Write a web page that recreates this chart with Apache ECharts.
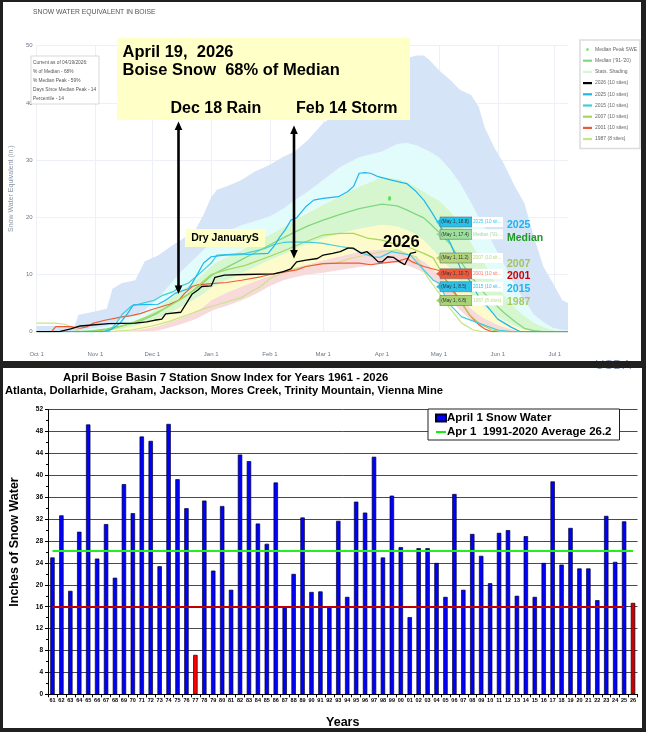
<!DOCTYPE html>
<html><head><meta charset="utf-8">
<script src="https://cdn.jsdelivr.net/npm/echarts@6/dist/echarts.min.js"></script>
<style>
html,body{margin:0;padding:0;background:#202020;width:646px;height:732px;overflow:hidden}
.panel{position:absolute;background:#fff}
#c{position:absolute;left:0;top:0;width:646px;height:732px}
#sep{position:absolute;left:0;top:361px;width:646px;height:7px;background:#202020;z-index:5}
</style></head><body>
<div class="panel" style="left:3px;top:2px;width:638px;height:359px"></div>
<div class="panel" style="left:3px;top:368px;width:639px;height:360px"></div>
<div id="c"></div>
<div id="sep"></div>
<script>
// ---------------- TOP CHART DATA (days since Oct 1) ----------------
const monthTicks = ['Oct 1','Nov 1','Dec 1','Jan 1','Feb 1','Mar 1','Apr 1','May 1','Jun 1','Jul 1'];
const statDays   = [0,10,20,22,30,37,40,45,52,57,64,71,76,84,88,92,95,100,108,115,123,130,136,143,151,160,170,182,190,195,200,204,207,212,218,223,229,233,236,241,246,252,257,262,267,272,277,280];
const statMax    = [1.0,1.0,0.8,2.9,3.5,4.0,7.5,8.5,9.0,12.3,13.3,15.0,16.0,18.0,20.5,23.5,24.8,25.4,26.5,28.0,29.2,30.6,31.5,33.5,36.5,38.5,41.0,44.0,46.5,47.8,48.3,48.3,47.5,45.7,44.0,42.3,41.4,39.3,35.8,32.3,29.5,25.4,22.5,16.6,11.4,8.5,5.5,5.0];
const statP90    = [0,0,0.1,0.2,0.6,1.0,1.5,2.2,3.0,3.8,5.8,8.5,10.5,13.0,14.3,15.5,16.3,17.5,18.6,19.3,20.2,21.5,23.0,24.5,26.5,28.8,30.5,31.5,32.8,33.0,32.6,32.0,31.5,30.5,28.3,26.0,22.5,20.0,18.3,15.0,12.0,8.0,5.5,3.0,1.7,0.7,0.3,0.2];
const statP70    = [0,0,0,0,0.3,0.6,0.8,1.2,1.9,2.6,4.2,6.0,7.2,9.0,10.2,11.5,12.2,13.0,14.3,15.5,17.0,18.3,19.5,20.8,22.2,23.7,25.4,27.0,26.8,26.2,25.3,24.5,23.8,23.0,21.0,19.0,15.5,13.3,12.0,9.0,6.5,4.2,2.8,1.6,0.8,0.3,0.1,0];
const statMedian = [0,0,0,0,0.2,0.5,0.7,1.0,1.6,2.2,3.3,4.8,5.7,7.5,8.6,9.8,10.4,11.2,12.6,13.8,15.2,16.4,17.4,18.5,19.5,20.5,21.5,22.3,22.0,21.3,20.5,19.9,19.0,17.4,15.3,12.5,9.6,8.0,6.7,5.0,3.4,1.8,0.6,0.2,0,0,0,0];
const statP30    = [0,0,0,0,0.1,0.2,0.3,0.5,1.0,1.5,2.3,3.4,4.3,5.8,6.7,7.7,8.2,9.0,10.2,11.3,12.6,13.5,14.4,15.4,16.3,17.2,18.0,18.7,18.4,17.8,17.0,16.0,15.0,13.2,11.0,8.8,6.5,5.2,4.3,3.0,2.0,1.0,0.4,0.1,0,0,0,0];
const statP10    = [0,0,0,0,0,0,0,0.1,0.3,0.5,1.0,1.8,2.4,3.5,4.4,5.5,6.0,6.8,7.9,8.8,9.8,10.6,11.2,11.8,12.5,13.2,14.0,14.4,14.3,13.8,13.0,12.3,11.5,10.0,7.8,6.0,4.0,3.0,2.3,1.5,0.8,0.3,0,0,0,0,0,0];
const statMin    = [0,0,0,0,0,0,0,0,0,0,0.2,0.8,1.3,2.2,2.9,3.6,4.0,4.5,5.5,6.5,8.0,9.0,9.5,10.0,10.3,10.8,11.3,12.0,12.0,11.6,11.0,10.3,9.6,8.0,5.5,3.8,2.0,1.2,0.8,0.3,0,0,0,0,0,0,0,0];
const medianPeak = [[186, 23.3]];

const wy2026 = [[0,0],[12,0],[18,0.5],[23,1.0],[38,1.4],[52,1.5],[58,1.7],[62,2.0],[66,2.2],[68,3.1],[76,3.4],[79,5.0],[82,6.6],[85,7.3],[87,7.9],[92,8.0],[94,9.5],[99,9.9],[110,10.0],[125,10.1],[130,10.5],[134,11.0],[137,12.2],[142,12.5],[148,12.8],[151,13.4],[156,13.7],[160,14.0],[164,14.6],[167,14.6],[171,13.7],[174,14.0],[177,13.2],[180,12.2],[182,12.2],[185,13.1],[188,13.0],[191,12.3],[194,11.7],[197,13.7],[200,13.9]];
const wy2025 = [[0,0],[35,0],[40,0.5],[44,1.5],[48,3.2],[51,4.7],[64,4.8],[68,5.5],[73,6.7],[80,7.5],[82,8.5],[85,10.2],[88,12.0],[92,13.1],[99,13.4],[110,13.5],[122,13.7],[125,14.9],[128,16.5],[131,17.8],[134,19.5],[137,19.9],[142,21.9],[146,23.0],[151,23.3],[159,23.6],[164,24.5],[167,25.4],[170,27.7],[173,27.8],[176,27.7],[180,27.1],[187,26.5],[195,25.9],[200,24.5],[204,23.0],[208,21.0],[212,18.8],[218,15.5],[224,10.5],[228,9.0],[233,6.1],[238,4.2],[243,2.2],[250,0.8],[255,0],[280,0]];
const wy2015 = [[0,0],[38,0],[42,1.5],[45,3.0],[50,4.5],[56,5.0],[62,5.5],[66,6.3],[72,7.0],[76,8.0],[80,8.5],[84,9.6],[88,10.8],[92,12.0],[95,13.4],[100,13.5],[110,13.7],[120,14.5],[125,15.2],[130,15.6],[136,15.7],[145,15.6],[150,15.5],[160,14.9],[166,14.6],[172,13.7],[177,13.1],[181,13.0],[187,14.0],[197,13.4],[204,10.8],[209,9.0],[212,8.5],[217,5.0],[224,2.6],[233,1.5],[243,0.3],[250,0],[280,0]];
const wy2007 = [[0,0],[30,0],[40,0.5],[50,1.5],[61,3.0],[70,4.5],[80,6.5],[92,10.0],[100,10.8],[110,11.6],[123,13.2],[130,14.1],[140,15.5],[151,16.9],[160,17.2],[167,17.2],[175,16.3],[182,16.0],[187,15.5],[195,14.9],[204,13.7],[209,12.9],[212,11.2],[218,7.5],[224,5.0],[228,3.0],[233,1.5],[240,0.3],[245,0],[280,0]];
const wy2001 = [[0,0],[8,0],[10,0.9],[18,0.9],[23,0.6],[27,0.9],[30,1.5],[36,2.0],[45,2.6],[50,2.8],[55,3.2],[60,3.8],[66,4.4],[70,4.8],[75,5.5],[78,6.7],[82,7.9],[85,8.2],[92,8.4],[100,8.6],[108,9.0],[118,9.6],[123,10.0],[130,10.4],[137,10.8],[142,11.4],[151,11.9],[160,12.0],[170,12.0],[176,11.7],[182,12.0],[190,12.3],[195,12.8],[198,12.2],[204,11.4],[212,10.7],[218,8.0],[224,5.0],[228,3.0],[233,1.2],[236,0.5],[240,0],[280,0]];
const wy1987 = [[0,1.5],[10,1.5],[15,1.3],[20,0.5],[23,0],[40,0],[50,0.3],[61,1.0],[70,1.8],[80,3.0],[88,4.0],[92,4.4],[100,5.2],[108,6.0],[113,7.0],[118,7.9],[123,9.3],[130,10.3],[133,10.8],[140,11.3],[151,11.9],[158,12.0],[165,12.8],[175,13.5],[182,14.0],[190,14.3],[196,13.5],[200,13.1],[206,9.5],[212,6.8],[218,4.0],[224,1.5],[230,0.3],[235,0],[280,0]];

// ---------------- BOTTOM CHART DATA ----------------
const years = ['61','62','63','64','65','66','67','68','69','70','71','72','73','74','75','76','77','78','79','80','81','82','83','84','85','86','87','88','89','90','91','92','93','94','95','96','97','98','99','00','01','02','03','04','05','06','07','08','09','10','11','12','13','14','15','16','17','18','19','20','21','22','23','24','25','26'];
const april1 = [25.0,32.7,18.9,29.7,49.3,24.8,31.1,21.3,38.4,33.1,47.1,46.3,23.4,49.4,39.3,34.0,7.2,35.4,22.6,34.4,19.1,43.8,42.6,31.2,27.5,38.7,15.9,22.0,32.3,18.7,18.8,15.9,31.7,17.8,35.2,33.2,43.4,25.0,36.3,26.9,14.1,26.7,26.7,24.0,17.8,36.6,19.1,29.3,25.3,20.3,29.5,30.0,18.0,28.9,17.8,24.0,38.9,23.7,30.4,23.0,23.0,17.2,32.6,24.2,31.6,16.7];
const average9120 = 26.2;
const redLineValue = 16.0;
const lowYear = '77', currentYear = '26';

// ---------------- BUILD ----------------
const SANS = "'Liberation Sans', Arial, sans-serif";
const MON = ['Jan','Feb','Mar','Apr','May','Jun','Jul','Aug','Sep','Oct','Nov','Dec'];
const dayLabels = [];
for (let d = 0; d <= 280; d++) { const dt = new Date(2025, 9, 1 + d); dayLabels.push(MON[dt.getMonth()] + ' ' + dt.getDate()); }
const isMonth = (i, v) => monthTicks.indexOf(v) >= 0;

const pair = (arr) => statDays.map((d, i) => [d, arr[i]]);
const diff = (a, b) => statDays.map((d, i) => [d, Math.max(0, a[i] - b[i])]);
function band(name, data, color) {
  return { name, type:'line', xAxisIndex:0, yAxisIndex:0, stack:'stats', data, symbol:'none', silent:true,
    lineStyle:{width:0}, areaStyle:{color, opacity:1}, itemStyle:{color}, z:1 };
}
function yr(name, data, color, w) {
  return { name, type:'line', xAxisIndex:0, yAxisIndex:0, data, symbol:'none', silent:true,
    lineStyle:{color, width:w||1.2}, itemStyle:{color}, z:3 };
}

const series = [
  { name:'_min', type:'line', xAxisIndex:0, yAxisIndex:0, stack:'stats', data:pair(statMin), symbol:'none', lineStyle:{width:0}, silent:true, z:1 },
  band('_p10', diff(statP10, statMin), '#f9dada'),
  band('_p30', diff(statP30, statP10), '#fdfbcb'),
  band('Stats. Shading', diff(statP70, statP30), '#d6f6cf'),
  band('_p90', diff(statP90, statP70), '#e2fbfb'),
  band('_max', diff(statMax, statP90), '#d5e4f7'),
  yr("Median ('91-'20)", pair(statMedian), '#7fd87f', 1.3),
  yr('1987 (8 sites)', wy1987, '#c6e585'),
  yr('2001 (10 sites)', wy2001, '#ef5a36'),
  yr('2007 (10 sites)', wy2007, '#a6d65c'),
  yr('2015 (10 sites)', wy2015, '#3fcfd8'),
  yr('2025 (10 sites)', wy2025, '#1db7ee'),
  yr('2026 (10 sites)', wy2026, '#000000', 1.3),
  { name:'Median Peak SWE', type:'scatter', xAxisIndex:0, yAxisIndex:0, data:medianPeak, symbol:'rect', symbolSize:[2.5,4], itemStyle:{color:'#22dd22'}, silent:true, z:4 },
  { name:'April 1 Snow Water', type:'bar', xAxisIndex:1, yAxisIndex:1, barWidth:4.4,
    data: april1.map((v, i) => ({ value:v, itemStyle:{ color: years[i] === lowYear ? '#ff0000' : (years[i] === currentYear ? '#cc0000' : '#0000ff') } })),
    itemStyle:{color:'#0000ff', borderColor:'#00002a', borderWidth:0.7}, silent:true,
    markLine:{ symbol:'none', silent:true, label:{show:false}, lineStyle:{color:'#c00000', width:2, type:'solid'},
      data:[[{coord:[years[0], redLineValue]}, {coord:[years[years.length-2], redLineValue]}]] } },
  { name:'Apr 1  1991-2020 Average 26.2', type:'line', xAxisIndex:1, yAxisIndex:1, data:[], symbol:'none',
    lineStyle:{color:'#11ee11', width:2}, itemStyle:{color:'#11ee11'},
    markLine:{ symbol:'none', silent:true, label:{show:false}, lineStyle:{color:'#22ee22', width:2, type:'solid'},
      data:[[{coord:[years[0], average9120]}, {coord:[years[years.length-1], average9120]}]] } }
];

// ---------------- ANNOTATIONS ----------------
function T(x, y, text, size, color, o) {
  o = o || {};
  const al = o.align || 'left';
  return { type:'text', z:100, silent:true, style:{ x, y, text, fill:color,
    font:(o.bold ? 'bold ' : '') + size + 'px ' + SANS,
    align:al, textAlign:al, verticalAlign:'middle', textVerticalAlign:'middle' } };
}
function R(x, y, w, h, fill, stroke, lw) {
  return { type:'rect', z:99, silent:true, shape:{x, y, width:w, height:h}, style:{fill, stroke:stroke||null, lineWidth:lw||0} };
}
function arrow(x, y1, y2) {
  return [
    { type:'line', z:101, silent:true, shape:{x1:x, y1:y1+6, x2:x, y2:y2-6}, style:{stroke:'#000', lineWidth:2.6} },
    { type:'polygon', z:101, silent:true, shape:{points:[[x,y1],[x-3.8,y1+8.5],[x+3.8,y1+8.5]]}, style:{fill:'#000'} },
    { type:'polygon', z:101, silent:true, shape:{points:[[x,y2],[x-3.8,y2-8.5],[x+3.8,y2-8.5]]}, style:{fill:'#000'} }
  ];
}
function tip(cy, value, fill, name, nameColor) {
  return [
    { type:'polygon', z:99, silent:true, shape:{points:[[436,cy],[440,cy-3],[440,cy+3]]}, style:{fill} },
    R(440, cy-5, 32, 10, fill, '#6f6f6f', 0.6),
    T(441.3, cy, '(May 1, ' + value + ')', 4.7, '#333'),
    R(472, cy-5, 31, 10, '#ffffff'),
    T(473, cy, name, 4.7, nameColor)
  ];
}
const graphics = [].concat(
  [T(33, 12.5, 'SNOW WATER EQUIVALENT IN BOISE', 6.8, '#555')],
  [R(31, 56, 68, 48, '#ffffff', '#cfcfcf', 0.8),
   T(33, 62.3, 'Current as of 04/19/2026:', 4.8, '#555'),
   T(33, 71.7, '% of Median - 68%', 4.8, '#555'),
   T(33, 80.7, '% Median Peak - 59%', 4.8, '#555'),
   T(33, 89.7, 'Days Since Median Peak - 14', 4.8, '#555'),
   T(33, 98.7, 'Percentile - 14', 4.8, '#555')],
  [R(117, 38, 293, 82, '#ffffc8'),
   T(122.5, 52.5, 'April 19,  2026', 16.5, '#000', {bold:true}),
   T(122.5, 70.5, 'Boise Snow  68% of Median', 16.5, '#000', {bold:true}),
   T(170.5, 108.5, 'Dec 18 Rain', 16, '#000', {bold:true}),
   T(296, 108.5, 'Feb 14 Storm', 16, '#000', {bold:true})],
  arrow(178.5, 121.5, 294),
  arrow(294, 125.5, 258.5),
  [R(185, 229, 80, 18, '#ffffc8'),
   T(225, 238, 'Dry JanuaryS', 10.5, '#000', {bold:true, align:'center'}),
   T(383, 242.5, '2026', 16.5, '#000', {bold:true})],
  tip(222, '18.8', '#22c4ec', '2025 (10 sit...', '#3cc8f0'),
  tip(234.3, '17.4', '#9be09b', "Median ('91-...", '#9edc9e'),
  tip(258, '11.2', '#b4d67a', '2007 (10 sit...', '#b5d97c'),
  tip(273.8, '10.7', '#f05a3c', '2001 (10 sit...', '#f07a68'),
  tip(286.7, '8.5', '#2ac0ea', '2015 (10 sit...', '#30c0f0'),
  tip(300.5, '6.8', '#a9d476', '1987 (8 sites)', '#bfe08e'),
  [T(507, 225.5, '2025', 10.5, '#1ab4ee', {bold:true}),
   T(507, 238.5, 'Median', 10.5, '#1f9a1f', {bold:true}),
   T(507, 264, '2007', 10.5, '#a3c45a', {bold:true}),
   T(507, 276.5, '2001', 10.5, '#cc0000', {bold:true}),
   T(507, 289.5, '2015', 10.5, '#1ab4ee', {bold:true}),
   T(507, 302, '1987', 10.5, '#a8c860', {bold:true})],
  [T(595, 365, 'USDA', 13, '#8a9abb', {})]
);

const lineIcon = 'path://M0,0 H10 V2 H0 Z';
const dotIcon = 'path://M0,0 H2 V2 H0 Z';

const option = {
  backgroundColor:'transparent',
  animation:false,
  textStyle:{fontFamily:SANS},
  title:[
    { text:'April Boise Basin 7 Station Snow Index for Years 1961 - 2026', left:63, top:372, padding:0,
      textStyle:{fontSize:11.3, fontWeight:'bold', color:'#000', fontFamily:SANS} },
    { text:'Atlanta, Dollarhide, Graham, Jackson, Mores Creek, Trinity Mountain, Vienna Mine', left:5, top:385, padding:0,
      textStyle:{fontSize:11.25, fontWeight:'bold', color:'#000', fontFamily:SANS} }
  ],
  grid:[
    { left:23, top:45.7, width:545, height:286, containLabel:false },
    { left:42.8, top:409.7, width:594.7, height:284.6, containLabel:false }
  ],
  legend:[
    { left:580, top:40, orient:'vertical', itemWidth:9, itemHeight:2.2, itemGap:4.2, padding:[6,3,6,3],
      borderColor:'#dcdcdc', borderWidth:1.5, backgroundColor:'#fff', icon:'rect', selectedMode:false,
      textStyle:{fontSize:5, color:'#666', lineHeight:7, padding:[0,0,0,-2]},
      data:[{name:'Median Peak SWE', icon:dotIcon}, "Median ('91-'20)", {name:'Stats. Shading', itemStyle:{color:'#d2f7d2'}}, '2026 (10 sites)', '2025 (10 sites)', '2015 (10 sites)', '2007 (10 sites)', '2001 (10 sites)', '1987 (8 sites)'] },
    { left:428, top:409, orient:'vertical', itemWidth:10, itemHeight:7, itemGap:2, padding:[3,8,2,7],
      borderColor:'#222', borderWidth:1, backgroundColor:'#fff', selectedMode:false,
      textStyle:{fontSize:11.5, fontWeight:'bold', color:'#000', fontFamily:SANS, padding:[0,0,0,-4]},
      data:[{name:'April 1 Snow Water', icon:'rect'}, {name:'Apr 1  1991-2020 Average 26.2', icon:lineIcon}] }
  ],
  xAxis:[
    { type:'category', gridIndex:0, data:dayLabels, boundaryGap:false,
      axisLine:{show:false}, axisTick:{show:false},
      axisLabel:{interval:isMonth, fontSize:6, color:'#6b7686', margin:20},
      splitLine:{show:true, interval:isMonth, lineStyle:{color:'#edf1f7', width:1}} },
    { type:'category', gridIndex:1, data:years, boundaryGap:true,
      axisLine:{show:true, lineStyle:{color:'#000', width:1}},
      axisTick:{show:true, interval:0, length:3, lineStyle:{color:'#000'}},
      axisLabel:{interval:0, fontSize:5.5, fontWeight:'bold', color:'#000', margin:3},
      name:'Years', nameLocation:'middle', nameGap:22,
      nameTextStyle:{fontSize:12.5, fontWeight:'bold', color:'#000'} }
  ],
  yAxis:[
    { type:'value', gridIndex:0, min:0, max:50, interval:10,
      axisLine:{show:false}, axisTick:{show:false},
      axisLabel:{fontSize:6, color:'#6b7686', margin:4},
      splitLine:{lineStyle:{color:'#edf1f7', width:1}},
      name:'Snow Water Equivalent (in.)', nameLocation:'middle', nameGap:15.5,
      nameTextStyle:{fontSize:7, color:'#8a94a3', fontFamily:SANS} },
    { type:'value', gridIndex:1, min:0, max:52, interval:4,
      axisLine:{show:true, lineStyle:{color:'#000', width:1}},
      axisTick:{show:true, length:3, lineStyle:{color:'#000'}},
      minorTick:{show:true, splitNumber:2, length:2, lineStyle:{color:'#000'}},
      axisLabel:{fontSize:6.5, fontWeight:'bold', color:'#000', margin:5},
      splitLine:{lineStyle:{color:'#4a4a4a', width:1}},
      name:'Inches of Snow Water', nameLocation:'middle', nameGap:27,
      nameTextStyle:{fontSize:12.5, fontWeight:'bold', color:'#000', padding:[0,0,0,20]} }
  ],
  series,
  graphic:{elements:graphics}
};
const chart = echarts.init(document.getElementById('c'));
chart.setOption(option);
</script></body></html>
